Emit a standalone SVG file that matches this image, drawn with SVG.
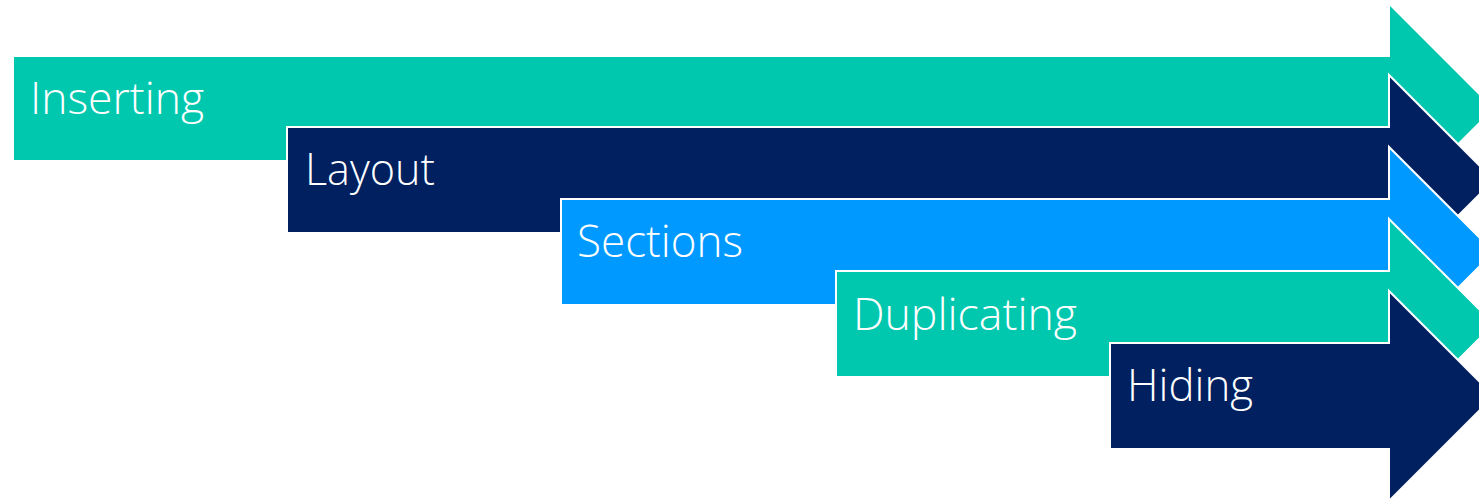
<svg xmlns="http://www.w3.org/2000/svg" width="1479" height="501" viewBox="0 0 1479 501">
<style>
.arrow{stroke:#FFFFFF;stroke-width:2;stroke-linejoin:miter}
.teal{fill:#00C8AF}
.navy{fill:#002060}
.blue{fill:#0099FF}
.lbl{font-family:"Open Sans","Noto Sans",sans-serif;font-weight:300;font-size:45px;fill:#FFFFFF}
</style>
<rect width="1479" height="501" fill="#FFFFFF"/>
<g id="inserting">
<polygon class="arrow teal" points="13,56 1389,56 1389,3.5 1494,108.5 1389,213.5 1389,161 13,161"/>
<text class="lbl" x="30" y="114" textLength="174" lengthAdjust="spacingAndGlyphs">Inserting</text>
</g>
<g id="layout">
<polygon class="arrow navy" points="287,127 1389,127 1389,75 1494,180 1389,285 1389,233 287,233"/>
<text class="lbl" x="305" y="185" textLength="130" lengthAdjust="spacingAndGlyphs">Layout</text>
</g>
<g id="sections">
<polygon class="arrow blue" points="561,199 1389,199 1389,147 1494,252 1389,357 1389,305 561,305"/>
<text class="lbl" x="577" y="257" textLength="166" lengthAdjust="spacingAndGlyphs">Sections</text>
</g>
<g id="duplicating">
<polygon class="arrow teal" points="836,271 1389,271 1389,219 1494,324 1389,429 1389,377 836,377"/>
<text class="lbl" x="853" y="330" textLength="224" lengthAdjust="spacingAndGlyphs">Duplicating</text>
</g>
<g id="hiding">
<polygon class="arrow navy" points="1110,343 1389,343 1389,291 1494,396 1389,501 1389,449 1110,449"/>
<text class="lbl" x="1127" y="401" textLength="126" lengthAdjust="spacingAndGlyphs">Hiding</text>
</g>
<g id="connectors"></g>
</svg>
